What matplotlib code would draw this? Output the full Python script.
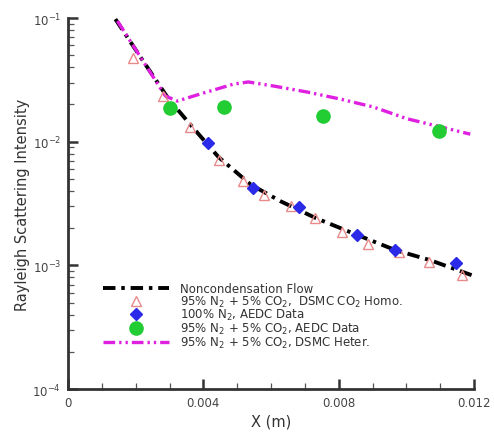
import matplotlib
matplotlib.use('Agg')
import matplotlib.pyplot as plt
import numpy as np

# Noncondensation flow (black dash-dot)
x_noncond = [0.00140, 0.00214, 0.00297, 0.00362, 0.00445, 0.00540, 0.00628,
             0.00731, 0.00855, 0.00967, 0.01071, 0.01200]
y_noncond = [0.098, 0.0484, 0.0222, 0.0137, 0.0075, 0.0045, 0.0033,
             0.00242, 0.00176, 0.00133, 0.00110, 0.00082]

# 95% N2 + 5% CO2, DSMC CO2 Homo. (open triangles)
x_homo = [0.00193, 0.00280, 0.00362, 0.00445, 0.00518, 0.00580, 0.00658,
          0.00731, 0.00810, 0.00888, 0.00977, 0.01066, 0.01166]
y_homo = [0.0475, 0.0234, 0.0131, 0.0071, 0.0048, 0.0037, 0.0030,
          0.00242, 0.00186, 0.00149, 0.00129, 0.00107, 0.00084]

# 100% N2, AEDC data (diamonds)
x_n2 = [0.00415, 0.00548, 0.00684, 0.00855, 0.00967, 0.01148]
y_n2 = [0.0098, 0.00423, 0.00297, 0.00176, 0.00133, 0.00104]

# 95% N2 + 5% CO2, AEDC data (circles)
x_aedc = [0.00300, 0.00462, 0.00755, 0.01098]
y_aedc = [0.0187, 0.0190, 0.0162, 0.0122]

# 95% N2 + 5% CO2, DSMC Heter. (magenta dash-dot-dot)
x_heter = [0.00146, 0.00214, 0.00288, 0.00323, 0.00391, 0.00489, 0.00533,
           0.00607, 0.00707, 0.00805, 0.00902, 0.01003, 0.01100, 0.01189]
y_heter = [0.0946, 0.0484, 0.0234, 0.0213, 0.0243, 0.0292, 0.0304,
           0.0282, 0.0252, 0.0221, 0.0191, 0.0153, 0.0132, 0.0115]

labels = ['Noncondensation Flow',
          r'95% N$_2$ + 5% CO$_2$,  DSMC CO$_2$ Homo.',
          r'100% N$_2$, AEDC Data',
          r'95% N$_2$ + 5% CO$_2$, AEDC Data',
          r'95% N$_2$ + 5% CO$_2$, DSMC Heter.']

fig = plt.figure(figsize=(4.94, 4.35), dpi=100)
ax = fig.add_axes([0.1377, 0.1034, 0.8218, 0.8529])

l_non, = ax.plot(x_noncond, y_noncond, color='black', lw=2.8, dashes=(3.2, 1.5, 0.9, 1.5),
                 zorder=2)
l_het, = ax.plot(x_heter, y_heter, color='#e020e0', lw=2.4,
                 dashes=(3.5, 1.2, 0.7, 1.2, 0.7, 1.2), zorder=3)
l_homo, = ax.plot(x_homo, y_homo, ls='none', marker='^', ms=7.5, mfc='none',
                  mec='#e88a8a', mew=1.0, zorder=4)
l_n2, = ax.plot(x_n2, y_n2, ls='none', marker='D', ms=6.2, color='#2a2ae8', zorder=5)
l_aedc, = ax.plot(x_aedc, y_aedc, ls='none', marker='o', ms=9.5, color='#22cc33',
                  zorder=4)

ax.set_yscale('log')
ax.set_xlim(0, 0.012)
ax.set_ylim(1e-4, 1e-1)
ax.set_xticks([0, 0.004, 0.008, 0.012])
ax.set_xticklabels(['0', '0.004', '0.008', '0.012'])
ax.set_xticks(np.arange(0, 0.0121, 0.001), minor=True)

for s in ['top', 'right']:
    ax.spines[s].set_visible(False)
for s in ['left', 'bottom']:
    ax.spines[s].set_linewidth(2)
    ax.spines[s].set_color('#333333')

ax.tick_params(which='major', direction='in', length=7, width=1.8, color='#333333',
               labelsize=8.5, labelcolor='#444444', pad=5)
ax.tick_params(which='minor', direction='in', length=4, width=0.9, color='#555555')

ax.set_xlabel('X (m)', fontsize=10.5, color='#333333', labelpad=3)
ax.set_ylabel('Rayleigh Scattering Intensity', fontsize=10.5, color='#333333', labelpad=2)

leg = ax.legend([l_non, l_homo, l_n2, l_aedc, l_het], labels, loc='center left',
                bbox_to_anchor=(0.085, 0.197), frameon=False, fontsize=8.5,
                handlelength=5.6, handletextpad=1.0, labelspacing=-0.12,
                borderpad=0, borderaxespad=0)
for t in leg.get_texts():
    t.set_color('#333333')

fig.savefig('out.png', dpi=100)
